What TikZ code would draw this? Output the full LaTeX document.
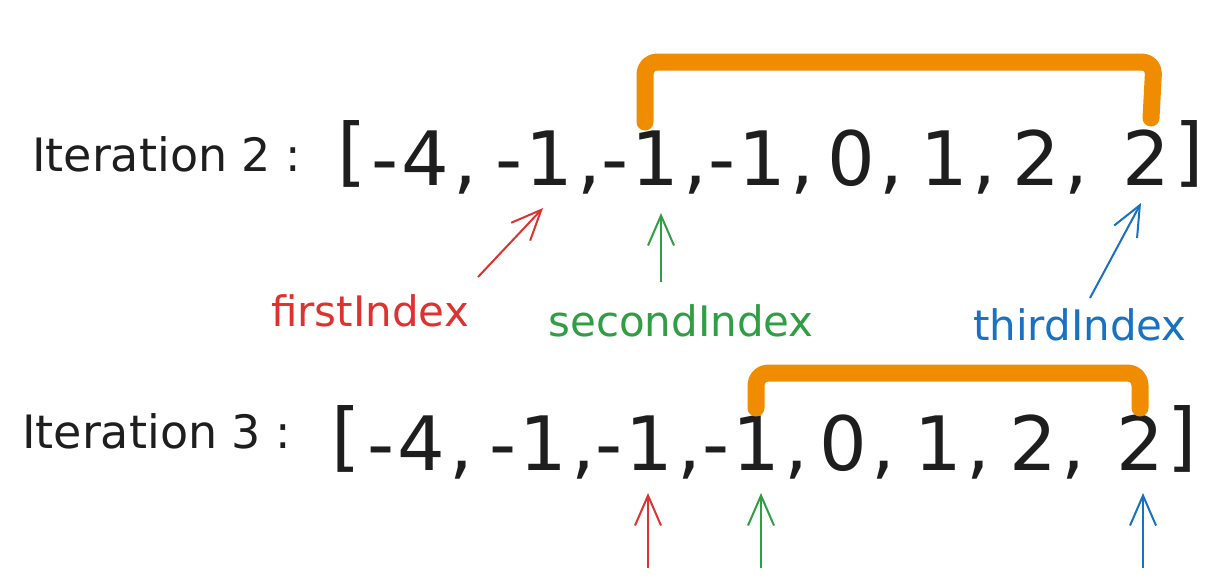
\documentclass[tikz,border=0pt]{standalone}
\usepackage{fontspec}
\setmainfont{DejaVu Sans}
\usetikzlibrary{arrows.meta}
\definecolor{ink}{HTML}{1E1E1E}
\definecolor{xred}{HTML}{E03131}
\definecolor{xgreen}{HTML}{2F9E44}
\definecolor{xblue}{HTML}{1971C2}
\definecolor{xorange}{HTML}{F08C00}
\newcommand{\mneg}[1]{\llap{-\hspace{3pt}}#1}
\newcommand{\mcm}{\rlap{\hspace{5pt},}}
\begin{document}
\begin{tikzpicture}[x=1pt,y=-1pt,
  num/.style={anchor=base, inner sep=0pt, text=ink, font=\fontsize{75}{80}\selectfont},
  iter/.style={anchor=base west, inner sep=0pt, text=ink, font=\fontsize{46}{50}\selectfont},
  lbl/.style={anchor=base, inner sep=0pt, font=\fontsize{42}{46}\selectfont},
  arr/.style={line width=2pt, -{Straight Barb[length=30pt,width=26pt]}},
  brace/.style={draw=xorange, line width=17pt, line cap=round, line join=round, rounded corners=12pt}]
\fill[white] (0,0) rectangle (1217,579);
\useasboundingbox (0,0) rectangle (1217,579);

% Row 1
\node[iter] (it2) at (32,171) {Iteration 2 :};
\node[num] (r1b0) at (352,177) {[};
\node[num] (r1e1) at (425,185) {\mneg{4}\mcm};
\node[num] (r1e2) at (549,185) {\mneg{1}\mcm};
\node[num] (r1e3) at (655,185) {\mneg{1}\mcm};
\node[num] (r1e4) at (762,185) {\mneg{1}\mcm};
\node[num] (r1e5) at (851,185) {0\mcm};
\node[num] (r1e6) at (944,185) {1\mcm};
\node[num] (r1e7) at (1036,185) {2\mcm};
\node[num] (r1e8) at (1146,185) {2};
\node[num] (r1b9) at (1189,177) {]};

\draw[brace] (645,122) -- (645,62) -- (1154,62) -- (1151,118);

\node[lbl, text=xred] (first1) at (370,326) {firstIndex};
\node[lbl, text=xgreen] (second1) at (681,336) {secondIndex};
\node[lbl, text=xblue] (third1) at (1080,340) {thirdIndex};

\coordinate (rt1) at (478,277);
\coordinate (rh1) at (543,208);
\coordinate (gt1) at (661,282);
\coordinate (gh1) at (661,213);
\coordinate (bt1) at (1090,298);
\coordinate (bh1) at (1141,203);
\draw[arr, xred] (rt1) -- (rh1);
\draw[arr, xgreen] (gt1) -- (gh1);
\draw[arr, xblue] (bt1) -- (bh1);

% Row 2
\node[iter] (it3) at (22,448) {Iteration 3 :};
\node[num] (r2b0) at (346,462) {[};
\node[num] (r2e1) at (421,470) {\mneg{4}\mcm};
\node[num] (r2e2) at (543,470) {\mneg{1}\mcm};
\node[num] (r2e3) at (649,470) {\mneg{1}\mcm};
\node[num] (r2e4) at (756,470) {\mneg{1}\mcm};
\node[num] (r2e5) at (843,470) {0\mcm};
\node[num] (r2e6) at (938,470) {1\mcm};
\node[num] (r2e7) at (1033,470) {2\mcm};
\node[num] (r2e8) at (1140,470) {2};
\node[num] (r2b9) at (1182,462) {]};

\draw[brace] (756,408) -- (756,373) -- (1140,373) -- (1140,408);

\coordinate (rt2) at (648,568);
\coordinate (rh2) at (648,493);
\coordinate (gt2) at (761,568);
\coordinate (gh2) at (761,493);
\coordinate (bt2) at (1143,568);
\coordinate (bh2) at (1143,493);
\draw[arr, xred] (rt2) -- (rh2);
\draw[arr, xgreen] (gt2) -- (gh2);
\draw[arr, xblue] (bt2) -- (bh2);
\end{tikzpicture}
\end{document}
